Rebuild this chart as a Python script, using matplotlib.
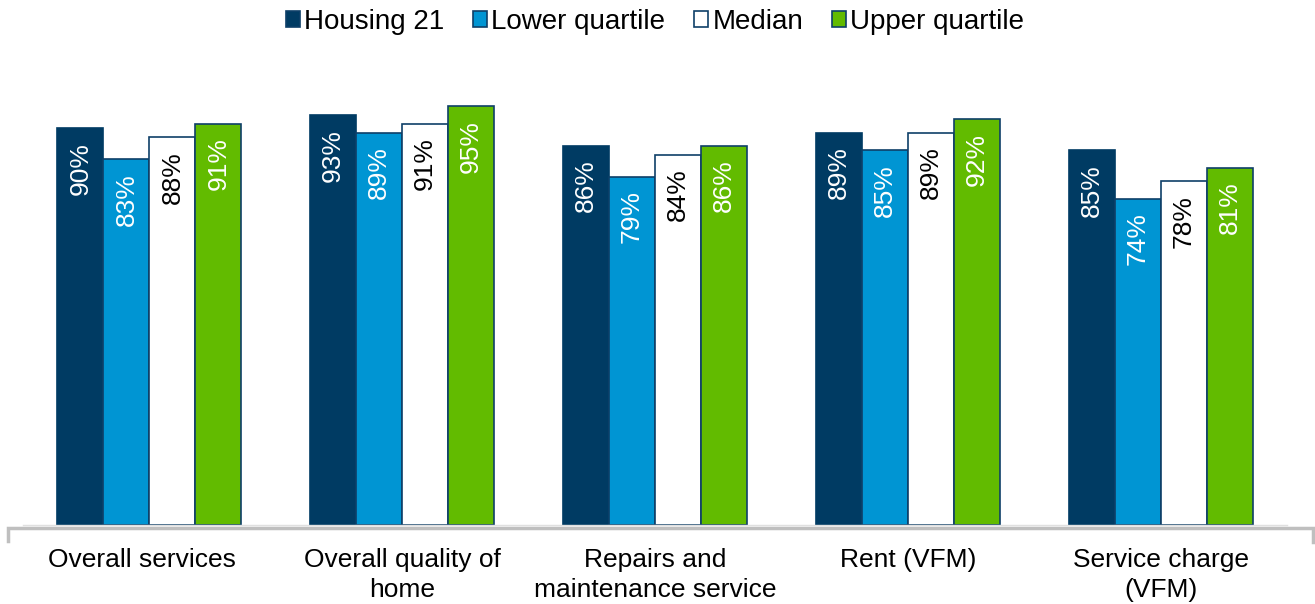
import matplotlib
matplotlib.use("Agg")
import matplotlib.pyplot as plt
from matplotlib.patches import Patch
from matplotlib.lines import Line2D
from matplotlib.transforms import ScaledTranslation
import numpy as np

plt.rcParams['font.family'] = ['Liberation Sans', 'DejaVu Sans']

categories = ["Overall services", "Overall quality of\nhome",
              "Repairs and\nmaintenance service", "Rent (VFM)",
              "Service charge\n(VFM)"]
series_names = ["Housing 21", "Lower quartile", "Median", "Upper quartile"]
housing21 = [90, 93, 86, 89, 85]
lower_q = [83, 89, 79, 85, 74]
median = [88, 91, 84, 89, 78]
upper_q = [91, 95, 86, 92, 81]

navy = "#003B63"
edge = "#0E3F68"
face_colors = [navy, "#0095D3", "#FFFFFF", "#62BB00"]
edge_colors = [navy, edge, edge, edge]
text_colors = ["white", "white", "black", "white"]

W, H = 1315, 604
fig = plt.figure(figsize=(W / 100, H / 100), dpi=100)
ax = fig.add_axes([23 / W, 79 / H, (1287 - 23) / W, (525 - 84) / H])

x = np.arange(len(categories))
bw = 0.182
all_series = [housing21, lower_q, median, upper_q]
for i, vals in enumerate(all_series):
    pos = x + (i - 1.5) * bw
    ax.bar(pos, vals, width=bw, color=face_colors[i],
           edgecolor=edge_colors[i], linewidth=1.2, label=series_names[i])
    for xp, v in zip(pos, vals):
        ax.annotate(f"{v}%", (xp, v), xytext=(0, -10),
                    textcoords="offset points", rotation=90,
                    ha="center", va="top", fontsize=19,
                    color=text_colors[i])

ax.set_xlim(-0.5, len(categories) - 0.5)
ax.set_ylim(0, 100)
for s in ["top", "right", "left"]:
    ax.spines[s].set_visible(False)
ax.spines["bottom"].set_color("#E0E0E0")
ax.spines["bottom"].set_linewidth(1)
ax.set_yticks([])
ax.set_xticks(x)
ax.set_xticklabels(categories, fontsize=19, linespacing=1.32)
ax.tick_params(axis="x", length=0, pad=16.5)
# first label sits slightly left of its group
lbl0 = ax.get_xticklabels()[0]
lbl0.set_transform(lbl0.get_transform()
                   + ScaledTranslation(-7 / 100, 0, fig.dpi_scale_trans))

# outer category frame line with end ticks
fx = [8 / W, 8 / W, 1313 / W, 1313 / W]
fy = [(H - 541) / H, (H - 528) / H, (H - 528) / H, (H - 542) / H]
fig.add_artist(Line2D(fx, fy, color="#BFBFBF", linewidth=2.5,
                      transform=fig.transFigure, solid_joinstyle="miter"))

handles = [Patch(facecolor=face_colors[i], edgecolor=edge, linewidth=1.2)
           for i in range(4)]
fig.legend(handles, series_names, loc="center", bbox_to_anchor=(655 / W, 1 - 22 / H),
           ncol=4, frameon=False, fontsize=20, handlelength=0.5,
           handleheight=0.5, handletextpad=0.15, columnspacing=1.05,
           borderaxespad=0)

fig.savefig("out.png", dpi=100)
